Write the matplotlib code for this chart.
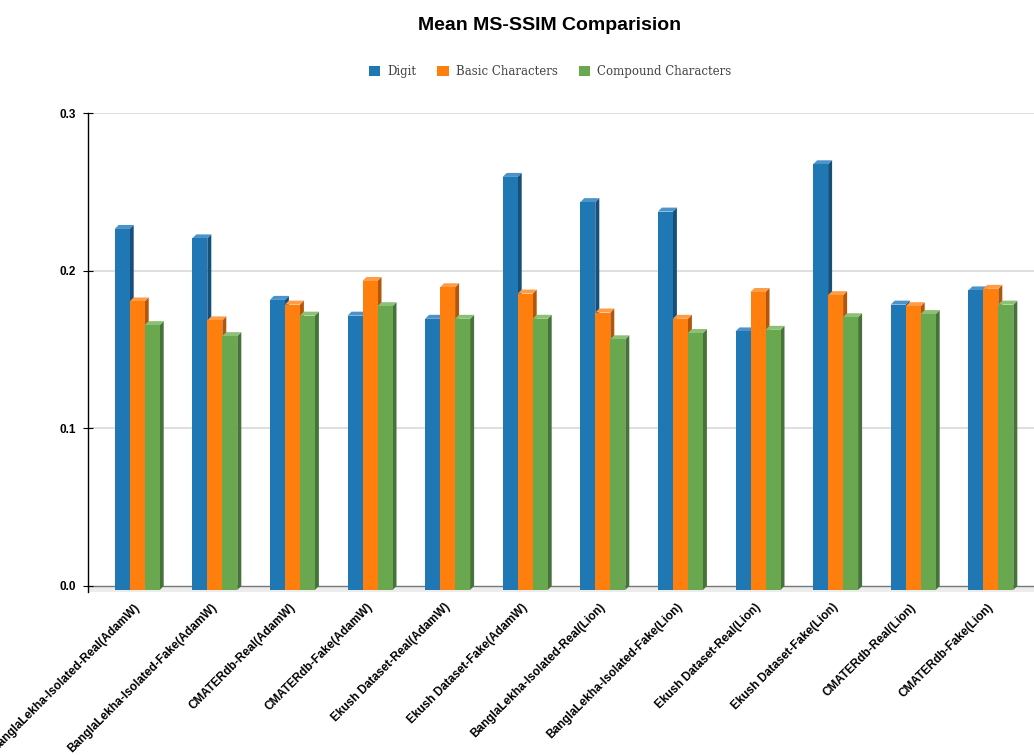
import matplotlib
matplotlib.use("Agg")
import matplotlib.pyplot as plt
from matplotlib.patches import Polygon, Rectangle
import matplotlib.transforms as mtransforms

# data
labels = [
    "BanglaLekha-Isolated-Real(AdamW)",
    "BanglaLekha-Isolated-Fake(AdamW)",
    "CMATERdb-Real(AdamW)",
    "CMATERdb-Fake(AdamW)",
    "Ekush Dataset-Real(AdamW)",
    "Ekush Dataset-Fake(AdamW)",
    "BanglaLekha-Isolated-Real(Lion)",
    "BanglaLekha-Isolated-Fake(Lion)",
    "Ekush Dataset-Real(Lion)",
    "Ekush Dataset-Fake(Lion)",
    "CMATERdb-Real(Lion)",
    "CMATERdb-Fake(Lion)",
]
series_names = ["Digit", "Basic Characters", "Compound Characters"]
digit = [0.229, 0.223, 0.184, 0.174, 0.172, 0.262, 0.246, 0.240, 0.164, 0.270, 0.181, 0.190]
basic = [0.183, 0.171, 0.181, 0.196, 0.192, 0.188, 0.176, 0.172, 0.189, 0.187, 0.180, 0.191]
compound = [0.168, 0.161, 0.174, 0.180, 0.172, 0.172, 0.159, 0.163, 0.165, 0.173, 0.175, 0.181]
yticks = [0.0, 0.1, 0.2, 0.3]

front = ["#1f77b4", "#ff7f0e", "#6aa84f"]
side = ["#164f7a", "#b3560a", "#46733a"]
top = ["#4b93c9", "#ff9c45", "#8cc077"]

plt.rcParams["font.family"] = ["Liberation Sans", "DejaVu Sans"]

fig = plt.figure(figsize=(10.34, 7.55), dpi=100)
# y=0 at 586px, y=0.3 at 113px
ppu = (586 - 113) / 0.3
ymin = -5.5 / ppu
ax = fig.add_axes([88 / 1034, 1 - (586 + 5.5) / 755, 1 - 88 / 1034, (586 + 5.5 - 113) / 755])

slot = 77.6          # px per group
w = 15 / slot        # bar front width
dx = 4 / slot        # depth offsets
dy = 4 / ppu
c0 = 137.2
ax.set_xlim((88 - c0) / slot, (1034 - c0) / slot)
ax.set_ylim(ymin, 0.3)

# floor and grid
ax.add_patch(Rectangle((ax.get_xlim()[0], ymin), 20, -ymin, color="#ececec", zorder=0, lw=0))
for t in yticks[1:]:
    ax.axhline(t, color="#dcdcdc", lw=1.3, zorder=0)
ax.axhline(0, color="#777777", lw=1.0, zorder=1)

for k, vals in enumerate([digit, basic, compound]):
    for i, v in enumerate(vals):
        l = i - 1.5 * w + k * w
        ax.add_patch(Polygon([(l + w, -dy), (l + w + dx, 0), (l + w + dx, v), (l + w, v - dy)],
                             closed=True, fc=side[k], ec="none", zorder=2 + k))
        ax.add_patch(Polygon([(l, v - dy), (l + dx, v), (l + w + dx, v), (l + w, v - dy)],
                             closed=True, fc=top[k], ec="none", zorder=2 + k))
        ax.add_patch(Rectangle((l, -dy), w, v, fc=front[k], ec="none", zorder=2 + k))

for s in ["top", "right", "bottom"]:
    ax.spines[s].set_visible(False)
ax.spines["left"].set_color("black")
ax.spines["left"].set_linewidth(1.0)

ax.set_yticks(yticks)
ax.set_yticklabels([f"{t:.1f}" for t in yticks], fontsize=8.5, fontweight="bold")
ax.tick_params(axis="y", direction="inout", length=7, width=0.8, pad=5)

ax.set_xticks(range(len(labels)))
ax.set_xticklabels(labels, rotation=45, ha="right", va="top", fontsize=8.5, fontweight="bold")
ax.tick_params(axis="x", length=0, pad=7)
offset = mtransforms.ScaledTranslation(5 / 100, 0, fig.dpi_scale_trans)
for lab in ax.get_xticklabels():
    lab.set_transform(lab.get_transform() + offset)

fig.text(550 / 1034, 1 - 25 / 755, "Mean MS-SSIM Comparision", ha="center", va="center",
         fontsize=14, fontweight="bold")

handles = [Rectangle((0, 0), 1, 1, fc=c, ec="none") for c in front]
leg = fig.legend(handles, series_names, loc="center", bbox_to_anchor=(550 / 1034, 1 - 71.5 / 755),
                 ncol=3, frameon=False, handlelength=0.95, handleheight=0.95, handletextpad=0.6,
                 columnspacing=1.8, prop={"family": "DejaVu Serif", "size": 8.5})
for t in leg.get_texts():
    t.set_color("#444444")

fig.savefig("out.png", dpi=100)
